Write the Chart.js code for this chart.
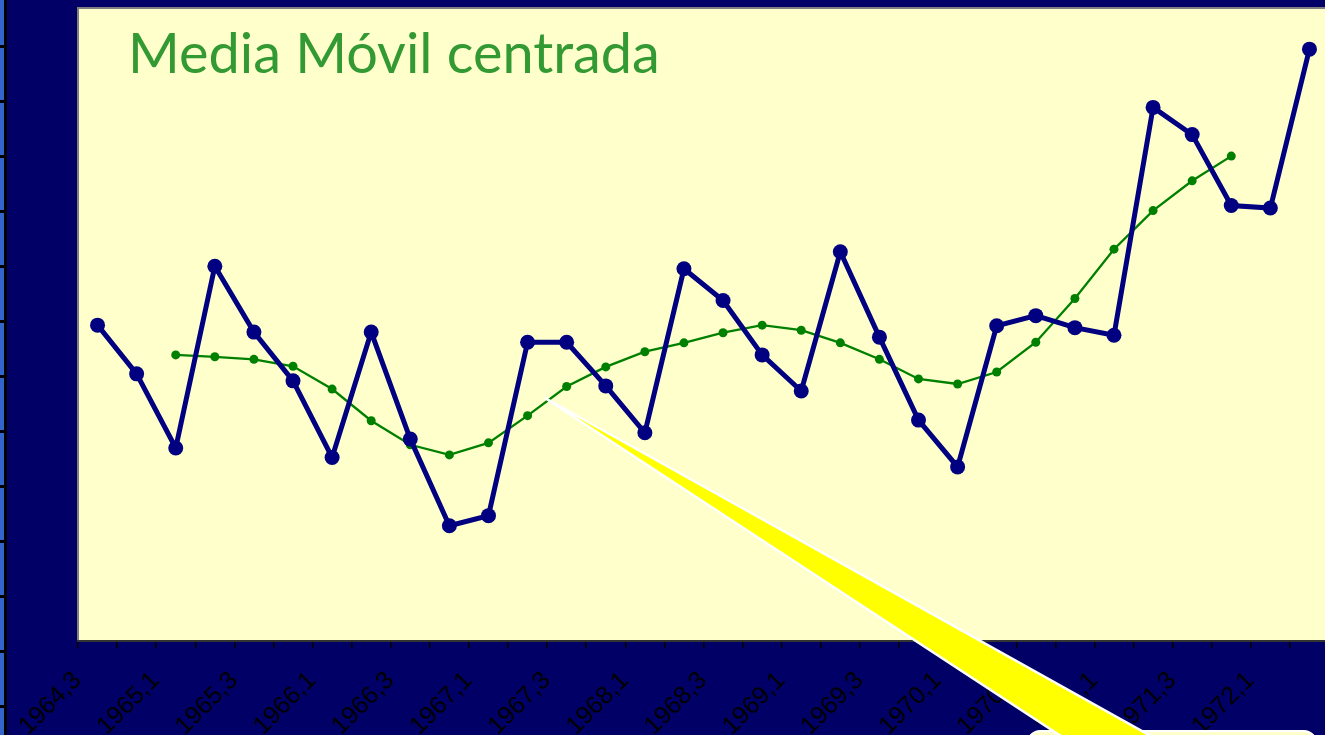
<!DOCTYPE html>
<html>
<head>
<meta charset="utf-8">
<script src="https://cdn.jsdelivr.net/npm/chart.js@4"></script>
<style>
  html, body { margin: 0; padding: 0; overflow: hidden; background: #000066; }
  #wrap { position: absolute; left: 0; top: 0; width: 1340px; height: 735px; }
</style>
</head>
<body>
<div id="wrap"><canvas id="c" width="1340" height="735"></canvas></div>
<script>
// ---- data ----
const categories = ['1964,3','1964,4','1965,1','1965,2','1965,3','1965,4','1966,1','1966,2',
  '1966,3','1966,4','1967,1','1967,2','1967,3','1967,4','1968,1','1968,2',
  '1968,3','1968,4','1969,1','1969,2','1969,3','1969,4','1970,1','1970,2',
  '1970,3','1970,4','1971,1','1971,2','1971,3','1971,4','1972,1','1972,2'];

const serieOriginal = [49.9, 42.2, 30.5, 59.2, 48.8, 41.1, 29.0, 48.8,
  31.9, 18.2, 19.8, 47.2, 47.2, 40.3, 32.9, 58.8,
  53.8, 45.2, 39.5, 61.5, 48.0, 34.9, 27.5, 49.8,
  51.4, 49.5, 48.3, 84.3, 80.0, 68.8, 68.4, 93.5];

const mediaMovilCentrada = [null, null, 45.2, 44.9, 44.5, 43.4, 39.8, 34.8,
  31.0, 29.4, 31.3, 35.6, 40.2, 43.3, 45.7, 47.1,
  48.7, 49.9, 49.1, 47.1, 44.5, 41.4, 40.6, 42.5,
  47.2, 54.1, 61.9, 68.0, 72.7, 76.6, null, null];

const titleText = 'Media Móvil centrada';

// ---- decorations ----
const decor = {
  id: 'decor',
  beforeDraw(chart) {
    const ctx = chart.ctx, a = chart.chartArea;
    ctx.save();
    ctx.fillStyle = '#000066';
    ctx.fillRect(0, 0, chart.width, chart.height);
    // left strip
    ctx.fillStyle = '#3366CC';
    ctx.fillRect(0, 0, 4, chart.height);
    ctx.fillStyle = '#000000';
    ctx.fillRect(4, 0, 3, chart.height);
    for (let y = 45; y < chart.height; y += 55) ctx.fillRect(0, y, 5, 3);
    // plot area
    ctx.fillStyle = '#FFFFCC';
    ctx.fillRect(a.left, a.top, a.right - a.left, a.bottom - a.top);
    ctx.strokeStyle = '#808080';
    ctx.lineWidth = 2;
    ctx.beginPath();
    ctx.moveTo(a.left, a.bottom);
    ctx.lineTo(a.left, a.top);
    ctx.lineTo(a.right, a.top);
    ctx.stroke();
    ctx.restore();
  },
  beforeDatasetsDraw(chart) {
    const ctx = chart.ctx, a = chart.chartArea;
    ctx.save();
    let size = 56;
    ctx.font = size + 'px "Lato"';
    const w = ctx.measureText(titleText).width;
    size = Math.min(60, size * 532 / w);
    ctx.font = size + 'px "Lato"';
    ctx.fillStyle = '#339933';
    ctx.textBaseline = 'alphabetic';
    ctx.fillText(titleText, a.left + 50, a.top + 65);
    ctx.restore();
  },
  afterDraw(chart) {
    const ctx = chart.ctx;
    ctx.save();
    // callout box
    ctx.fillStyle = '#FFFFCC';
    ctx.strokeStyle = '#FFFFFF';
    ctx.lineWidth = 2;
    ctx.beginPath();
    if (ctx.roundRect) ctx.roundRect(1028, 731, 288, 60, 12); else ctx.rect(1028, 731, 288, 60);
    ctx.fill();
    ctx.stroke();
    // wedge
    ctx.beginPath();
    ctx.moveTo(545, 398);
    ctx.lineTo(1067, 740);
    ctx.lineTo(1158, 740);
    ctx.closePath();
    ctx.fillStyle = '#FFFF00';
    ctx.fill();
    ctx.beginPath();
    ctx.moveTo(1067, 740); ctx.lineTo(545, 398); ctx.lineTo(1158, 740);
    ctx.strokeStyle = '#FFFFFF';
    ctx.lineWidth = 2.5;
    ctx.stroke();
    ctx.restore();
  }
};

new Chart(document.getElementById('c'), {
  type: 'line',
  data: {
    labels: categories,
    datasets: [
      {
        label: 'Serie',
        data: serieOriginal,
        borderColor: '#000080',
        backgroundColor: '#000080',
        borderWidth: 5,
        pointRadius: 7.5,
        pointHoverRadius: 7.5,
        pointBorderWidth: 0,
        tension: 0,
        order: 1
      },
      {
        label: 'Media móvil centrada',
        data: mediaMovilCentrada,
        borderColor: '#008000',
        backgroundColor: '#008000',
        borderWidth: 2.3,
        pointRadius: 4.5,
        pointHoverRadius: 4.5,
        pointBorderWidth: 0,
        tension: 0,
        spanGaps: false,
        order: 2
      }
    ]
  },
  options: {
    responsive: false,
    animation: false,
    events: [],
    layout: { padding: { left: 78, top: 8, right: 11, bottom: 0 } },
    plugins: { legend: { display: false }, title: { display: false }, tooltip: { enabled: false } },
    scales: {
      y: { display: false, min: 0, max: 100 },
      x: {
        offset: true,
        afterFit(s) { s.height = 94; s.paddingLeft = 0; s.paddingRight = 0; },
        border: { display: true, color: '#333333', width: 2 },
        grid: { display: true, offset: true, drawOnChartArea: false, drawTicks: true, tickLength: 7, color: '#000000', lineWidth: 1.5 },
        ticks: {
          autoSkip: false,
          maxRotation: 45,
          minRotation: 45,
          labelOffset: -20,
          padding: 18,
          color: '#000000',
          font: { family: '"Liberation Sans", Arial, sans-serif', size: 25 },
          callback(v, i) { return i % 2 === 0 ? categories[i] : ''; }
        }
      }
    }
  },
  plugins: [decor]
});
</script>
</body>
</html>
